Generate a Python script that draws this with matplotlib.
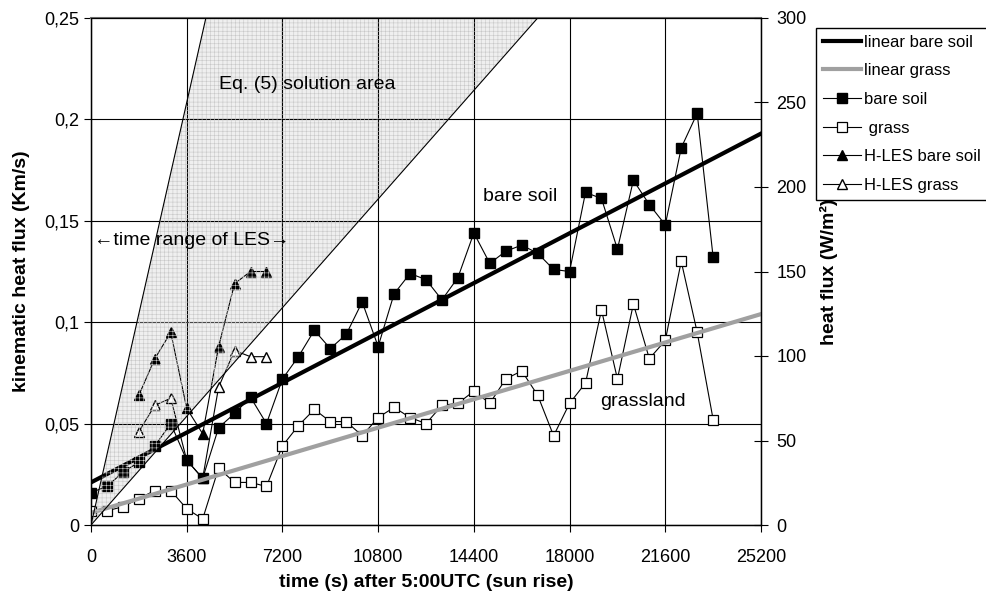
import matplotlib
matplotlib.use("Agg")
import matplotlib.pyplot as plt
from matplotlib.ticker import FuncFormatter, MultipleLocator

plt.rcParams['font.family'] = ['Liberation Sans', 'DejaVu Sans']
plt.rcParams['hatch.linewidth'] = 0.4

# measurement times (s after 5:00 UTC)
t_obs = [0, 600, 1200, 1800, 2400, 3000, 3600, 4200, 4800, 5400,
         6000, 6600, 7200, 7800, 8400, 9000, 9600, 10200, 10800, 11400,
         12000, 12600, 13200, 13800, 14400, 15000, 15600, 16200, 16800, 17400,
         18000, 18600, 19200, 19800, 20400, 21000, 21600, 22200, 22800, 23400]

bare_soil = [0.016, 0.019, 0.026, 0.031, 0.039, 0.050, 0.032, 0.023, 0.048, 0.055,
             0.063, 0.050, 0.072, 0.083, 0.096, 0.087, 0.094, 0.110, 0.088, 0.114,
             0.124, 0.121, 0.111, 0.122, 0.144, 0.129, 0.135, 0.138, 0.134, 0.126,
             0.125, 0.164, 0.161, 0.136, 0.170, 0.158, 0.148, 0.186, 0.203, 0.132]

grass = [0.007, 0.007, 0.009, 0.013, 0.017, 0.017, 0.008, 0.003, 0.028, 0.021,
         0.021, 0.019, 0.039, 0.049, 0.057, 0.051, 0.051, 0.044, 0.053, 0.058,
         0.053, 0.050, 0.059, 0.060, 0.066, 0.060, 0.072, 0.076, 0.064, 0.044,
         0.060, 0.070, 0.106, 0.072, 0.109, 0.082, 0.091, 0.130, 0.095, 0.052]

# H-LES results
t_les = [1800, 2400, 3000, 3600, 4200, 4800, 5400, 6000, 6600]
les_bare = [0.064, 0.082, 0.095, 0.0575, 0.045, 0.088, 0.119, 0.125, 0.125]
les_grass = [0.046, 0.059, 0.0625, 0.032, 0.023, 0.068, 0.086, 0.083, 0.083]

# linear fits (end points)
t_fit = [0, 25200]
fit_bare = [0.021, 0.193]
fit_grass = [0.006, 0.104]

# Eq. (5) solution area
t_area = [0, 4320, 16800]
k_area = [0, 0.25, 0.25]

x_ticks = [0, 3600, 7200, 10800, 14400, 18000, 21600, 25200]

fig = plt.figure(figsize=(9.86, 5.98), dpi=100)
ax = fig.add_axes([91/986, 1-525/598, 670/986, 507/598])

# shaded solution area
ax.fill(t_area, k_area, facecolor='#efefef', edgecolor='none', zorder=0.2)
ax.fill(t_area, k_area, facecolor='none', edgecolor='#c8c8c8', hatch='++++',
        linewidth=0, zorder=6)
ax.plot(t_area[:2], k_area[:2], color='black', lw=0.8, zorder=6.5)
ax.plot([t_area[0], t_area[2]], [k_area[0], k_area[2]], color='black', lw=0.8, zorder=6.5)

l1, = ax.plot(t_fit, fit_bare, color='black', lw=3, label='linear bare soil', zorder=4)
l2, = ax.plot(t_fit, fit_grass, color='#a0a0a0', lw=3, label='linear grass', zorder=4)
l5, = ax.plot(t_les, les_bare, color='black', lw=0.8, marker='^', ms=7,
              mfc='black', mec='black', label='H-LES bare soil', zorder=2.5)
l6, = ax.plot(t_les, les_grass, color='black', lw=0.8, marker='^', ms=7,
              mfc='white', mec='black', label='H-LES grass', zorder=2.5)
l3, = ax.plot(t_obs, bare_soil, color='black', lw=0.8, marker='s', ms=6.5,
              mfc='black', mec='black', label='bare soil', zorder=3)
l4, = ax.plot(t_obs, grass, color='black', lw=0.8, marker='s', ms=6.5,
              mfc='white', mec='black', mew=0.9, label=' grass', zorder=3)

ax.set_xlim(0, 25200)
ax.set_ylim(0, 0.25)
ax.set_xticks(x_ticks)
ax.yaxis.set_major_locator(MultipleLocator(0.05))
ax.yaxis.set_major_formatter(FuncFormatter(lambda v, p: '{:g}'.format(round(v, 3)).replace('.', ',')))
ax.set_axisbelow(True)
ax.grid(True, color='black', lw=0.8)
ax.tick_params(axis='both', labelsize=13, direction='out', length=5, width=0.8)
ax.tick_params(axis='x', pad=12)
for s in ['left', 'bottom']:
    ax.spines[s].set_linewidth(1)
ax.spines['top'].set_color('#707070')
ax.spines['top'].set_linewidth(1.5)

ax.set_xlabel('time (s) after 5:00UTC (sun rise)', fontsize=14, fontweight='bold', labelpad=6)
ax.set_ylabel('kinematic heat flux (Km/s)', fontsize=14, fontweight='bold', labelpad=10)

ax2 = ax.twinx()
ax2.set_ylim(0, 300)
ax2.yaxis.set_major_locator(MultipleLocator(50))
ax2.tick_params(axis='y', labelsize=13, direction='inout', length=10, width=0.8, pad=6)
ax2.spines['right'].set_linewidth(1)
ax2.set_ylabel('heat flux (W/m²)', fontsize=14, fontweight='bold', labelpad=10)

ax.text(4826, 0.217, 'Eq. (5) solution area', fontsize=14, va='center', zorder=7)
ax.text(14744, 0.162, 'bare soil', fontsize=14, va='center', zorder=7)
ax.text(19144, 0.061, 'grassland', fontsize=14, va='center', zorder=7)
ax.text(120, 0.1405, '←time range of LES→', fontsize=14, va='center', zorder=7)

fig.legend(handles=[l1, l2, l3, l4, l5, l6], loc='upper left',
           bbox_to_anchor=(816/986, 1-28/598), fontsize=12, frameon=True,
           fancybox=False, edgecolor='black', framealpha=1,
           handlelength=2.3, handletextpad=0.2, labelspacing=0.82,
           borderpad=0.4, borderaxespad=0)

fig.savefig('out.png', dpi=100)
